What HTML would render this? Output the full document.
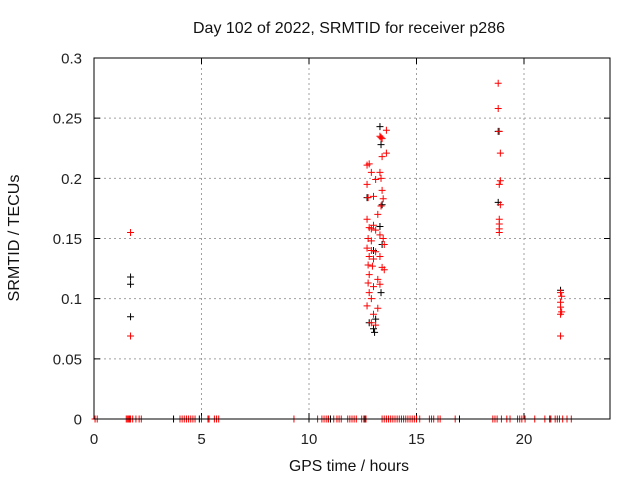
<!DOCTYPE html>
<html><head><meta charset="utf-8"><style>
body{margin:0;background:#fff}
svg{display:block;font-family:"Liberation Sans",sans-serif}
</style></head><body>
<svg id="chart" width="640" height="480" viewBox="0 0 640 480">
<rect width="640" height="480" fill="#fff"/>
<g id="grid"></g>
<g id="axes"></g>
<g id="black-series"></g>
<g id="red-series"></g>
<rect x="94" y="58" width="516" height="361" fill="none" stroke="#000" stroke-width="1"/>
<text x="349" y="33" text-anchor="middle" font-size="16" textLength="312" lengthAdjust="spacingAndGlyphs" fill="#111">Day 102 of 2022, SRMTID for receiver p286</text>
<text x="349" y="471" text-anchor="middle" font-size="16" textLength="120" lengthAdjust="spacingAndGlyphs" fill="#111">GPS time / hours</text>
<text x="19" y="238" text-anchor="middle" font-size="16" textLength="127" lengthAdjust="spacingAndGlyphs" fill="#111" transform="rotate(-90 19 238)">SRMTID / TECUs</text>
</svg>
<script>
const xTicks=[0,5,10,15,20];
const yTicks=[0,0.05,0.1,0.15,0.2,0.25,0.3];
const yTickLabels=["0","0.05","0.1","0.15","0.2","0.25","0.3"];
const redTimes=[1.7,1.7,12.7,12.8,12.7,12.9,13.3,13.35,13.4,13.6,13.4,13.6,13.3,13.35,13.1,12.75,13.0,13.4,13.45,13.35,13.2,12.7,13.0,12.8,12.9,13.1,12.75,12.9,13.3,13.45,13.5,12.7,12.9,13.1,12.8,13.0,13.3,12.75,12.95,13.4,13.5,12.8,13.2,12.75,13.0,13.3,12.8,12.9,12.7,13.2,13.0,12.9,13.1,18.8,18.8,18.9,18.85,18.9,18.85,18.9,18.85,18.85,18.85,18.85,21.7,21.75,21.7,21.7,21.75,21.7,21.7];
const redValues=[0.155,0.069,0.211,0.212,0.195,0.205,0.235,0.234,0.233,0.240,0.218,0.221,0.205,0.200,0.199,0.184,0.185,0.190,0.183,0.177,0.170,0.166,0.161,0.159,0.158,0.157,0.150,0.148,0.153,0.150,0.145,0.142,0.140,0.139,0.135,0.133,0.135,0.128,0.127,0.126,0.124,0.120,0.116,0.113,0.110,0.112,0.105,0.100,0.094,0.092,0.087,0.080,0.078,0.279,0.258,0.221,0.239,0.198,0.195,0.178,0.166,0.162,0.158,0.155,0.105,0.102,0.097,0.093,0.089,0.087,0.069];
const blackTimes=[1.7,1.7,1.7,13.3,13.35,12.7,13.4,13.3,13.4,13.0,13.35,12.8,13.0,13.05,13.1,18.8,18.8,21.7];
const blackValues=[0.118,0.112,0.085,0.243,0.228,0.184,0.178,0.160,0.145,0.140,0.105,0.080,0.075,0.072,0.083,0.239,0.180,0.107];
const zeroBlackTimes=[3.7,4.9,10.0,10.9,11.0,12.6,17.0,21.2];
const zeroRedTimes=[0.05,0.15,1.5,1.55,1.6,1.65,1.7,1.8,1.95,2.1,2.2,4.0,4.1,4.2,4.3,4.4,4.5,4.6,4.7,5.0,5.3,5.35,5.6,5.7,5.8,9.3,10.4,10.6,10.7,10.8,10.9,11.15,11.3,11.4,11.5,11.8,11.9,12.0,12.1,12.2,12.45,12.55,12.65,13.4,13.5,13.6,13.7,13.8,13.9,14.0,14.1,14.2,14.3,14.4,14.5,14.6,14.7,14.8,14.9,15.0,15.15,15.6,15.7,15.8,16.0,16.1,16.8,18.55,18.65,18.75,18.95,19.2,19.35,19.7,19.8,19.9,20.05,20.5,20.97,21.25,21.45,21.55,21.65,21.8,22.0,22.2];
const NS="http://www.w3.org/2000/svg";
const X=t=>94+t*(516/24);
const Y=v=>419-v*(361/0.3);
function mk(tag,attrs,parent){const e=document.createElementNS(NS,tag);for(const k in attrs)e.setAttribute(k,attrs[k]);parent.appendChild(e);return e;}
const grid=document.getElementById('grid'),axes=document.getElementById('axes');
xTicks.forEach(t=>{
  if(t>0){const l=mk('line',{x1:X(t),x2:X(t),y1:58,y2:419,stroke:'#a0a0a0','stroke-dasharray':'2,3'},grid);
  
  }
  const tk=mk('path',{d:`M${X(t)},419v-6M${X(t)},58v6`,stroke:'#000'},axes);
  
  
  const tx=mk('text',{x:X(t),y:444,'text-anchor':'middle','font-size':15,fill:'#222'},axes);
  tx.textContent=String(t);
  
  
});
yTicks.forEach((v,i)=>{
  if(v>0&&v<0.3){const l=mk('line',{x1:94,x2:610,y1:Y(v),y2:Y(v),stroke:'#a0a0a0','stroke-dasharray':'2,3'},grid);
  
  }
  const tk=mk('path',{d:`M94,${Y(v)}h6M610,${Y(v)}h-6`,stroke:'#000'},axes);
  
  
  const tx=mk('text',{x:82,y:Y(v)+5.5,'text-anchor':'end','font-size':15,fill:'#222'},axes);
  tx.textContent=yTickLabels[i];
  
  
});
function plus(g,t,v,c,name){
  const p=mk('path',{d:`M${X(t)-3.5},${Y(v)}h7M${X(t)},${Y(v)-3.5}v7`,stroke:c,'stroke-width':1},g);
  
  
}
const bg=document.getElementById('black-series'),rg=document.getElementById('red-series');
blackTimes.forEach((t,i)=>plus(bg,t,blackValues[i],'#000','black-point'));
zeroBlackTimes.forEach(t=>plus(bg,t,0,'#000','black-zero-point'));
redTimes.forEach((t,i)=>plus(rg,t,redValues[i],'#f00','red-point'));
zeroRedTimes.forEach(t=>plus(rg,t,0,'#f00','red-zero-point'));
</script>
</body></html>
